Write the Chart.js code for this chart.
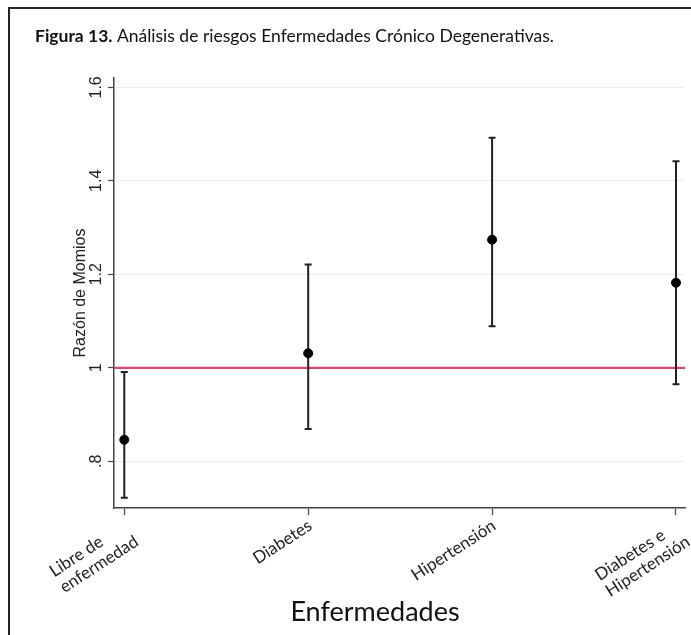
<!DOCTYPE html>
<html>
<head>
<meta charset="utf-8">
<script src="https://cdn.jsdelivr.net/npm/chart.js@4/dist/chart.umd.min.js"></script>
<style>
  html, body { margin: 0; padding: 0; background: #fff; }
  #c { display: block; }
</style>
</head>
<body>
<canvas id="c" width="691" height="635"></canvas>
<script>
// Odds ratios with 95% confidence intervals by disease group
const categories = [['Libre de', 'enfermedad'], ['Diabetes'], ['Hipertensión'], ['Diabetes e', 'Hipertensión']];
const positions = [1, 2, 3, 4];
const oddsRatio = [0.846, 1.031, 1.274, 1.182];
const ciLower = [0.722, 0.869, 1.089, 0.965];
const ciUpper = [0.991, 1.221, 1.492, 1.442];
const yTickValues = [0.8, 1, 1.2, 1.4, 1.6];
const yTickLabels = ['.8', '1', '1.2', '1.4', '1.6'];
const referenceValue = 1;

const titleBold = 'Figura 13.';
const titleRest = ' Análisis de riesgos Enfermedades Crónico Degenerativas.';
const yTitle = 'Razón de Momios';
const xTitle = 'Enfermedades';

const SANS = 'Lato, "Open Sans", sans-serif';
const ARIAL = '"Liberation Sans", Arial, sans-serif';
const LABEL_ANGLE = 33 * Math.PI / 180;

// Page frame and figure caption
const framePlugin = {
  id: 'frame',
  afterDraw(chart) {
    const ctx = chart.ctx;
    ctx.save();
    ctx.strokeStyle = '#222';
    ctx.lineWidth = 2;
    ctx.beginPath();
    ctx.moveTo(9, 635);
    ctx.lineTo(9, 8);
    ctx.lineTo(691, 8);
    ctx.stroke();
    ctx.fillStyle = '#111';
    ctx.textBaseline = 'alphabetic';
    ctx.textAlign = 'left';
    ctx.font = 'bold 17.5px ' + SANS;
    ctx.fillText(titleBold, 35, 42);
    const w = ctx.measureText(titleBold).width;
    ctx.font = '17.5px ' + SANS;
    ctx.fillText(titleRest, 35 + w, 42);
    ctx.restore();
  }
};

// Reference line at OR = 1 and the confidence-interval whiskers
const intervalPlugin = {
  id: 'intervals',
  beforeDatasetsDraw(chart) {
    const { ctx, chartArea, scales } = chart;
    const xs = scales.x, ys = scales.y;
    ctx.save();
    const yRef = ys.getPixelForValue(referenceValue);
    ctx.strokeStyle = '#d9456b';
    ctx.lineWidth = 2.2;
    ctx.beginPath();
    ctx.moveTo(chartArea.left, yRef);
    ctx.lineTo(chartArea.right, yRef);
    ctx.stroke();

    ctx.strokeStyle = '#222';
    ctx.lineWidth = 2;
    const cap = 3.5;
    positions.forEach((p, i) => {
      const x = xs.getPixelForValue(p);
      const yLo = ys.getPixelForValue(ciLower[i]);
      const yHi = ys.getPixelForValue(ciUpper[i]);
      ctx.beginPath();
      ctx.moveTo(x, yLo);
      ctx.lineTo(x, yHi);
      ctx.moveTo(x - cap, yLo);
      ctx.lineTo(x + cap, yLo);
      ctx.moveTo(x - cap, yHi);
      ctx.lineTo(x + cap, yHi);
      ctx.stroke();
    });
    ctx.restore();
  }
};

// Axis tick labels and titles
const labelPlugin = {
  id: 'axisLabels',
  afterDraw(chart) {
    const { ctx, chartArea, scales } = chart;
    const xs = scales.x, ys = scales.y;
    ctx.save();
    ctx.fillStyle = '#222';

    // vertical tick labels, rotated
    ctx.font = '16px ' + ARIAL;
    ctx.textAlign = 'center';
    ctx.textBaseline = 'alphabetic';
    yTickValues.forEach((v, i) => {
      const y = ys.getPixelForValue(v);
      ctx.save();
      ctx.translate(101, y);
      ctx.rotate(-Math.PI / 2);
      ctx.fillText(yTickLabels[i], 0, 0);
      ctx.restore();
    });

    // vertical axis title
    ctx.save();
    ctx.translate(85, (chartArea.top + chartArea.bottom) / 2);
    ctx.rotate(-Math.PI / 2);
    ctx.fillText(yTitle, 0, 0);
    ctx.restore();

    // category labels, slanted
    ctx.font = '17px ' + SANS;
    ctx.textAlign = 'left';
    ctx.textBaseline = 'middle';
    const lineH = 19;
    positions.forEach((p, i) => {
      const lines = categories[i];
      const blockW = Math.max(...lines.map(s => ctx.measureText(s).width));
      ctx.save();
      ctx.translate(xs.getPixelForValue(p) + 2, chartArea.bottom + 16);
      ctx.rotate(-LABEL_ANGLE);
      lines.forEach((s, k) => ctx.fillText(s, -blockW, k * lineH));
      ctx.restore();
    });

    // horizontal axis title
    ctx.font = '27px ' + SANS;
    ctx.textAlign = 'center';
    ctx.textBaseline = 'alphabetic';
    ctx.fillStyle = '#111';
    ctx.fillText(xTitle, 375, 621);
    ctx.restore();
  }
};

new Chart(document.getElementById('c'), {
  type: 'scatter',
  data: {
    datasets: [{
      data: positions.map((p, i) => ({ x: p, y: oddsRatio[i] })),
      backgroundColor: '#000',
      borderColor: '#000',
      pointRadius: 4.5,
      pointHoverRadius: 4.5
    }]
  },
  options: {
    responsive: false,
    animation: false,
    devicePixelRatio: 1,
    layout: { padding: { left: 0, top: 78, right: 6, bottom: 0 } },
    plugins: { legend: { display: false }, tooltip: { enabled: false } },
    scales: {
      x: {
        type: 'linear',
        min: 0.944,
        max: 4.049,
        afterBuildTicks: s => { s.ticks = positions.map(v => ({ value: v })); },
        afterFit: s => { s.height = 127; },
        ticks: { display: false },
        grid: { drawOnChartArea: false, drawTicks: true, tickLength: 7, tickColor: '#444', tickWidth: 1.2 },
        border: { color: '#444', width: 1.5 }
      },
      y: {
        min: 0.70,
        max: 1.62,
        afterBuildTicks: s => { s.ticks = yTickValues.map(v => ({ value: v })); },
        afterFit: s => { s.width = 114; },
        ticks: { display: false },
        grid: { color: '#e6eff1', lineWidth: 1, drawTicks: true, tickLength: 6, tickColor: '#444', tickWidth: 1.2 },
        border: { color: '#444', width: 1.5 }
      }
    }
  },
  plugins: [intervalPlugin, labelPlugin, framePlugin]
});
</script>
</body>
</html>
